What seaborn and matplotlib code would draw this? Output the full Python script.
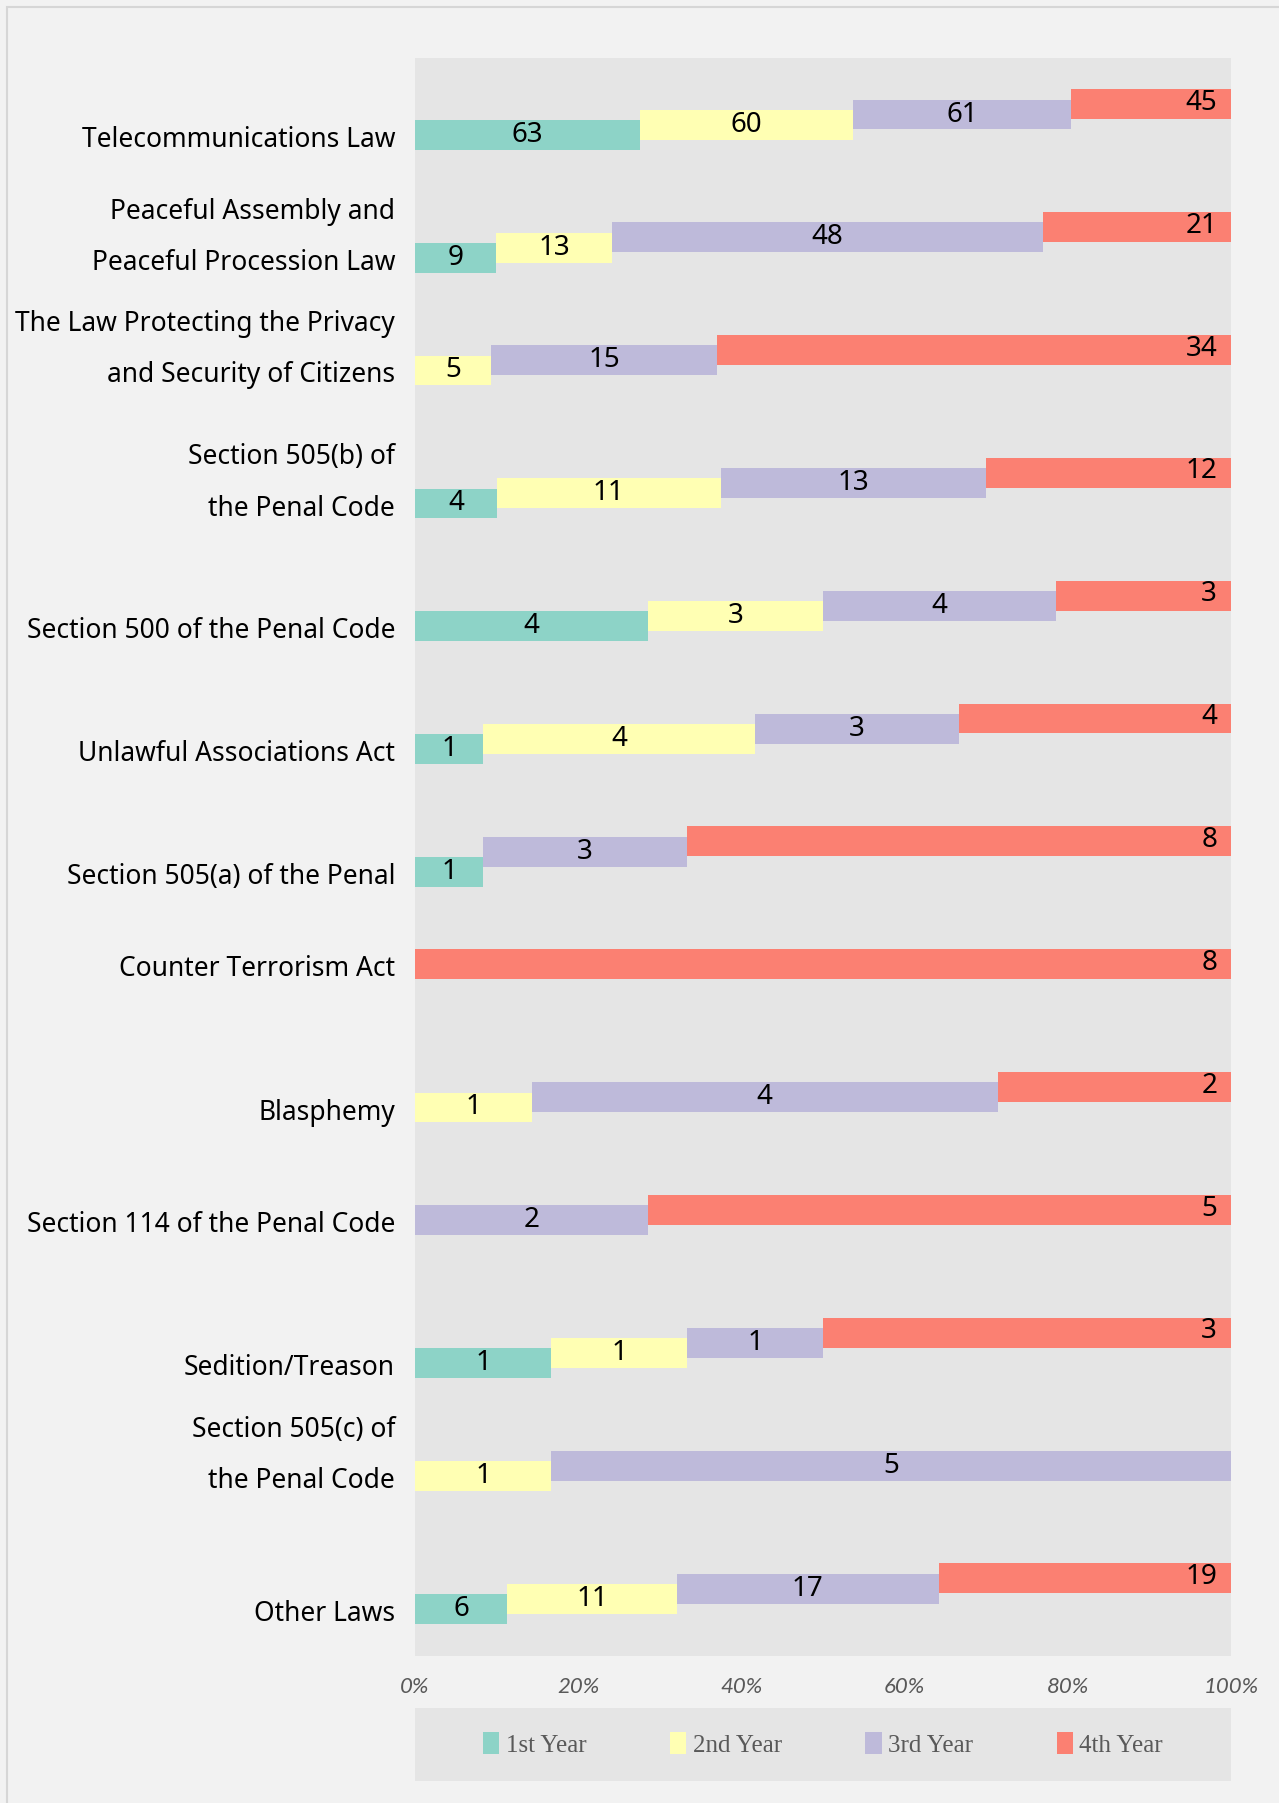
import numpy as np
import pandas as pd
import seaborn as sns
import matplotlib.pyplot as plt
from matplotlib.patches import Patch, Rectangle
import matplotlib.transforms as mtransforms

# data
laws = [
    "Telecommunications Law",
    "Peaceful Assembly and\nPeaceful Procession Law",
    "The Law Protecting the Privacy\nand Security of Citizens",
    "Section 505(b) of\nthe Penal Code",
    "Section 500 of the Penal Code",
    "Unlawful Associations Act",
    "Section 505(a) of the Penal",
    "Counter Terrorism Act",
    "Blasphemy",
    "Section 114 of the Penal Code",
    "Sedition/Treason",
    "Section 505(c) of\nthe Penal Code",
    "Other Laws",
]
years = ["1st Year", "2nd Year", "3rd Year", "4th Year"]
year1 = [63, 9, 0, 4, 4, 1, 1, 0, 0, 0, 1, 0, 6]
year2 = [60, 13, 5, 11, 3, 4, 0, 0, 1, 0, 1, 1, 11]
year3 = [61, 48, 15, 13, 4, 3, 3, 0, 4, 2, 1, 5, 17]
year4 = [45, 21, 34, 12, 3, 4, 8, 8, 2, 5, 3, 0, 19]

sns.set_theme(style="white")
plt.rcParams['font.family'] = ['Noto Sans', 'DejaVu Sans']

df = pd.DataFrame({"1st Year": year1, "2nd Year": year2, "3rd Year": year3, "4th Year": year4}, index=laws)
pct = df.div(df.sum(axis=1), axis=0) * 100
lefts = pct.cumsum(axis=1) - pct

colors = sns.color_palette("Set3", 4)

fig = plt.figure(figsize=(12.79, 18.03), dpi=100)
fig.patch.set_facecolor('#f2f2f2')
fig.patches.append(Rectangle((0.0055, -0.01), 1.1, 1 - 0.0039 + 0.01, transform=fig.transFigure,
                             fill=False, edgecolor='#d6d6d6', linewidth=1.5))

ax = fig.add_axes([0.3245, 0.0815, 0.638, 0.8863])
ax.set_facecolor('#e5e5e5')

bar_h = 0.243
step = 0.083
ypos = np.arange(len(laws))

for j, yr in enumerate(years):
    y = ypos - j * step
    ax.barh(y, pct[yr].values, left=lefts[yr].values, height=bar_h, color=colors[j],
            edgecolor='none')
    for i in range(len(laws)):
        v = df[yr].iloc[i]
        if v == 0:
            continue
        if j == 3:
            ax.annotate(str(v), (100, y[i]), xytext=(-10, 1), textcoords='offset points',
                        ha='right', va='center', fontsize=20, color='black')
        else:
            ax.text(lefts[yr].iloc[i] + pct[yr].iloc[i] / 2, y[i], str(v),
                    ha='center', va='center', fontsize=20, color='black')

ax.set_xlim(0, 100)
ax.set_ylim(12.383, -0.626)
ax.set_yticks([])
ax.set_xticks([0, 20, 40, 60, 80, 100])
ax.set_xticklabels(["0%", "20%", "40%", "60%", "80%", "100%"], fontsize=16, style='italic',
                   color='#595959', family='Lato')
ax.tick_params(axis='x', length=0, pad=15)
for s in ax.spines.values():
    s.set_visible(False)

# category label sits on the lowest bar that is drawn for that row
trans = mtransforms.blended_transform_factory(ax.transAxes, ax.transData)
for i, name in enumerate(laws):
    first = next(j for j, yr in enumerate(years) if df[yr].iloc[i] > 0)
    ax.text(-0.0245, i - first * step + 0.155, name, transform=trans, ha='right', va='bottom',
            fontsize=19, fontweight='medium', color='black', linespacing=2.1,
            multialignment='right')

# legend box
lax = fig.add_axes([0.3245, 1 - 1781 / 1803, 0.638, 73 / 1803])
lax.set_facecolor('#e5e5e5')
lax.set_xticks([])
lax.set_yticks([])
for s in lax.spines.values():
    s.set_visible(False)
handles = [Patch(facecolor=colors[j], edgecolor='none', label=yr) for j, yr in enumerate(years)]
lax.legend(handles=handles, loc='center', ncol=4, frameon=False, handlelength=0.65,
           handleheight=0.95, handletextpad=0.25, columnspacing=3.35,
           prop={'family': 'Liberation Serif', 'size': 18}, labelcolor='#595959')

fig.savefig('out.png', dpi=100, facecolor=fig.get_facecolor())
